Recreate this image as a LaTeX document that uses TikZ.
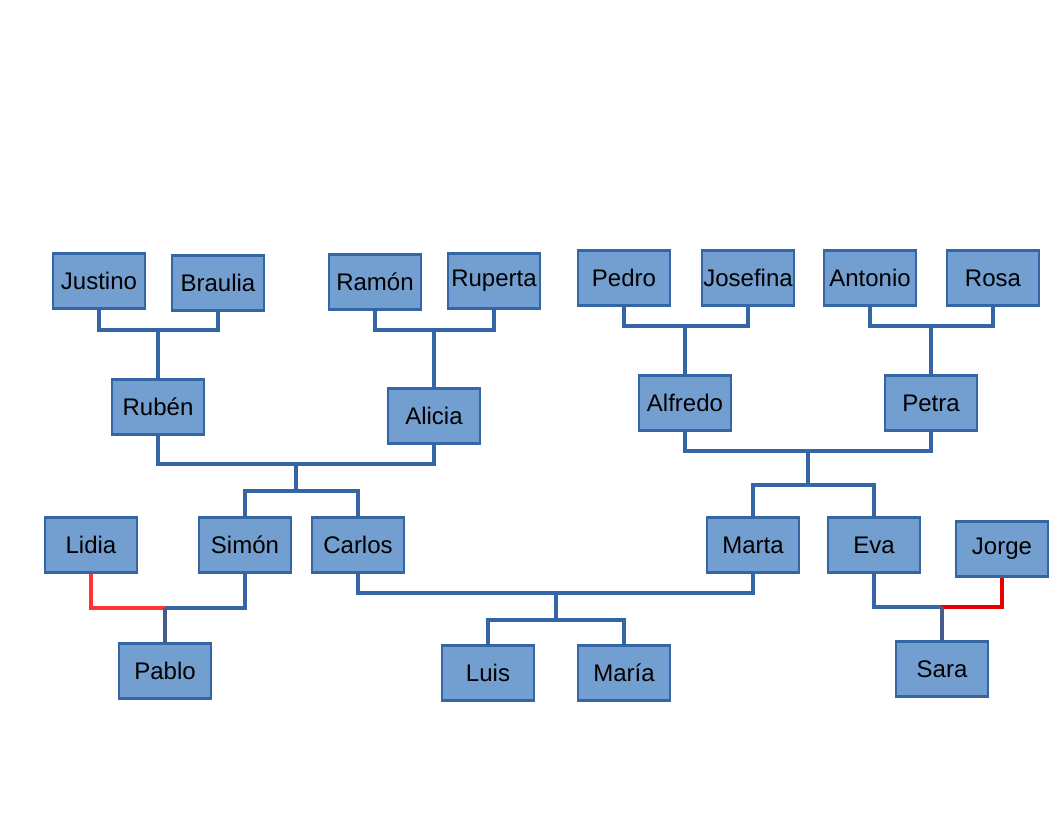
\documentclass[tikz,border=0pt]{standalone}
\usepackage{fontspec}
\setmainfont{Liberation Sans}
\usetikzlibrary{positioning}

\definecolor{boxfill}{HTML}{729FCF}
\definecolor{boxline}{HTML}{3465A4}
\definecolor{linkred}{HTML}{FF3333}
\definecolor{linkredd}{HTML}{E60000}
\definecolor{linkdark}{HTML}{4A5A8C}

\begin{document}
\begin{tikzpicture}
    [ x=0.75pt, y=-0.75pt,
    every node/.style={font=\fontsize{18}{20}\selectfont},
    P/.style={rectangle, fill=boxfill, draw=boxline, line width=2.2pt,
      minimum width=69pt, minimum height=41pt, inner sep=0pt},
    link/.style={draw=boxline, line width=2.4pt},
    red/.style={draw=linkred, line width=2.4pt},
    redd/.style={draw=linkredd, line width=2.4pt},
    kid/.style={draw=linkdark, line width=2.4pt}
    ]

    \useasboundingbox (0,0) rectangle (1056,816);

    % grandparents
    \node[P] (justino)  at (99,281)  {Justino};
    \node[P] (braulia)  at (218,283) {Braulia};
    \node[P] (ramon)    at (375,282) {Ramón};
    \node[P] (ruperta)  at (494,281) {Ruperta};
    \node[P] (pedro)    at (624,278) {Pedro};
    \node[P] (josefina) at (748,278) {Josefina};
    \node[P] (antonio)  at (870,278) {Antonio};
    \node[P] (rosa)     at (993,278) {Rosa};

    % parents
    \node[P] (ruben)   at (158,407) {Rubén};
    \node[P] (alicia)  at (434,416) {Alicia};
    \node[P] (alfredo) at (685,403) {Alfredo};
    \node[P] (petra)   at (931,403) {Petra};

    % children
    \node[P] (lidia)  at (91,545)   {Lidia};
    \node[P] (simon)  at (245,545)  {Simón};
    \node[P] (carlos) at (358,545)  {Carlos};
    \node[P] (marta)  at (753,545)  {Marta};
    \node[P] (eva)    at (874,545)  {Eva};
    \node[P] (jorge)  at (1002,549) {Jorge};

    % grandchildren
    \node[P] (pablo) at (165,671) {Pablo};
    \node[P] (luis)  at (488,673) {Luis};
    \node[P] (maria) at (624,673) {María};
    \node[P] (sara)  at (942,669) {Sara};

    \coordinate (jb) at (158,330);
    \coordinate (rr) at (434,330);
    \coordinate (pj) at (685,326);
    \coordinate (ar) at (931,326);
    \coordinate (ra) at (296,464);
    \coordinate (sc) at (296,491);
    \coordinate (ap) at (808,451);
    \coordinate (me) at (808,485);
    \coordinate (cm) at (556,593);
    \coordinate (lm) at (556,620);
    \coordinate (ls) at (165,608);
    \coordinate (ej) at (942,607);

    \draw [link] (justino.south) |- (jb) -| (braulia.south);
    \draw [link] (jb) -- (ruben.north);
    \draw [link] (ramon.south) |- (rr) -| (ruperta.south);
    \draw [link] (rr) -- (alicia.north);
    \draw [link] (pedro.south) |- (pj) -| (josefina.south);
    \draw [link] (pj) -- (alfredo.north);
    \draw [link] (antonio.south) |- (ar) -| (rosa.south);
    \draw [link] (ar) -- (petra.north);

    \draw [link] (ruben.south) |- (ra) -| (alicia.south);
    \draw [link] (ra) -- (sc);
    \draw [link] (simon.north) |- (sc) -| (carlos.north);
    \draw [link] (alfredo.south) |- (ap) -| (petra.south);
    \draw [link] (ap) -- (me);
    \draw [link] (marta.north) |- (me) -| (eva.north);

    \draw [link] (carlos.south) |- (cm) -| (marta.south);
    \draw [link] (cm) -- (lm);
    \draw [link] (luis.north) |- (lm) -| (maria.north);

    \draw [red] (lidia.south) |- (ls);
    \draw [link] (ls) -| (simon.south);
    \draw [kid] (ls) -- (pablo.north);
    \draw [link] (eva.south) |- (ej);
    \draw [redd] (ej) -| (jorge.south);
    \draw [kid] (ej) -- (sara.north);

\end{tikzpicture}
\end{document}
